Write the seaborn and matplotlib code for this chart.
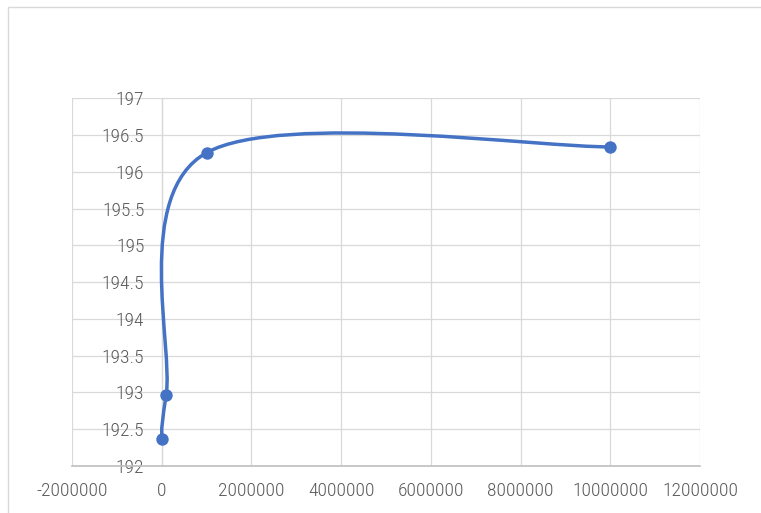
import numpy as np
import pandas as pd
import matplotlib
matplotlib.use("Agg")
import matplotlib.pyplot as plt
from matplotlib.path import Path
from matplotlib.patches import PathPatch, Rectangle
import seaborn as sns

# Measured series
frequency = [10000, 100000, 1000000, 10000000]
response = [192.37, 192.97, 196.26, 196.34]

# Axis ticks and their labels
x_ticks = [-2000000, 0, 2000000, 4000000, 6000000, 8000000, 10000000, 12000000]
x_tick_labels = ["-2000000", "0", "2000000", "4000000", "6000000",
                 "8000000", "10000000", "12000000"]
y_ticks = [192, 192.5, 193, 193.5, 194, 194.5, 195, 195.5, 196, 196.5, 197]
y_tick_labels = ["192", "192.5", "193", "193.5", "194", "194.5",
                 "195", "195.5", "196", "196.5", "197"]

LINE_BLUE = "#4472C4"
GRID_GREY = "#D9D9D9"
TEXT_GREY = "#595959"

sns.set_theme(style="white")
plt.rcParams["font.family"] = ["Roboto Condensed", "IBM Plex Sans Condensed",
                               "PT Sans Narrow", "DejaVu Sans"]
plt.rcParams["font.weight"] = "light"

W, H = 761, 513
fig = plt.figure(figsize=(W / 100, H / 100), dpi=100)
fig.patch.set_facecolor("white")

# outer chart frame
fig.patches.append(Rectangle((8 / W, -10 / H), (W + 20) / W, (H + 3) / H,
                             transform=fig.transFigure, fill=False,
                             edgecolor=GRID_GREY, linewidth=1.0))

ax = fig.add_axes([72 / W, 47 / H, 628 / W, 367.7 / H])
ax.set_facecolor("white")

df = pd.DataFrame({"frequency": frequency, "response": response})


def smooth_path(xs, ys):
    """Cardinal-spline (Bezier) path through the points, like a smoothed scatter line."""
    pts = np.column_stack([xs, ys]).astype(float)
    n = len(pts)
    verts = [pts[0]]
    codes = [Path.MOVETO]
    for i in range(n - 1):
        p_prev = pts[i - 1] if i > 0 else pts[i]
        p_after = pts[i + 2] if i + 2 < n else pts[i + 1]
        c1 = pts[i] + (pts[i + 1] - p_prev) / 6.0
        c2 = pts[i + 1] - (p_after - pts[i]) / 6.0
        verts += [c1, c2, pts[i + 1]]
        codes += [Path.CURVE4] * 3
    return Path(verts, codes)


ax.add_patch(PathPatch(smooth_path(df["frequency"], df["response"]),
                       fill=False, edgecolor=LINE_BLUE, linewidth=2.5,
                       capstyle="round", joinstyle="round", zorder=3))

sns.scatterplot(data=df, x="frequency", y="response", ax=ax,
                color=LINE_BLUE, s=80, linewidth=0, zorder=4, legend=False)

ax.set_xlim(-2000000, 12000000)
ax.set_ylim(192, 197)
ax.set_xticks(x_ticks)
ax.set_xticklabels(x_tick_labels)
ax.set_yticks(y_ticks)
ax.set_yticklabels(y_tick_labels)
ax.set_xlabel("")
ax.set_ylabel("")

ax.grid(True, color=GRID_GREY, linewidth=0.9)
ax.set_axisbelow(True)

for side in ("top", "right"):
    ax.spines[side].set_visible(False)
ax.spines["left"].set_position(("data", 0))
ax.spines["left"].set_color(GRID_GREY)
ax.spines["left"].set_linewidth(0.9)
ax.spines["bottom"].set_color("#BFBFBF")
ax.spines["bottom"].set_linewidth(1.2)

ax.tick_params(axis="both", length=0, labelsize=14, colors=TEXT_GREY)
ax.tick_params(axis="y", pad=12.5)
ax.tick_params(axis="x", pad=11.5)

fig.savefig("out.png", dpi=100, facecolor="white")
